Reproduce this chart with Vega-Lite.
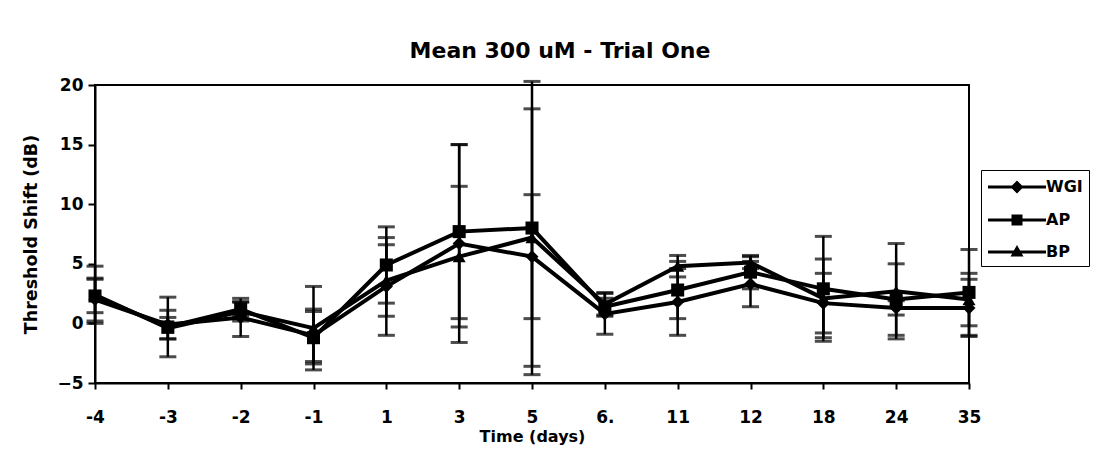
{
  "$schema": "https://vega.github.io/schema/vega-lite/v6.json",
  "autosize": "none",
  "width": 874,
  "height": 298,
  "padding": {"left": 95, "top": 85, "right": 136, "bottom": 84},
  "background": "white",
  "title": {
    "text": "Mean 300 uM - Trial One",
    "font": "DejaVu Sans",
    "fontSize": 22,
    "fontWeight": "bold",
    "color": "black",
    "anchor": "middle",
    "dx": 28,
    "offset": 13
  },
  "config": {
    "view": {"stroke": "black", "strokeWidth": 2},
    "axis": {
      "labelFont": "DejaVu Sans",
      "labelFontWeight": "bold",
      "labelColor": "black",
      "titleFont": "DejaVu Sans",
      "titleFontWeight": "bold",
      "titleColor": "black",
      "domainColor": "black",
      "domainWidth": 2,
      "tickColor": "black",
      "tickWidth": 2,
      "grid": false
    }
  },
  "data": {
    "values": [
      {"day": "-4", "series": "WGI", "value": 2.0, "err": 1.8},
      {"day": "-3", "series": "WGI", "value": -0.1, "err": 1.2},
      {"day": "-2", "series": "WGI", "value": 0.5, "err": 1.6},
      {"day": "-1", "series": "WGI", "value": -1.0, "err": 2.2},
      {"day": "1", "series": "WGI", "value": 3.1, "err": 4.1},
      {"day": "3", "series": "WGI", "value": 6.7, "err": 8.3},
      {"day": "5", "series": "WGI", "value": 5.6, "err": 5.2},
      {"day": "6.", "series": "WGI", "value": 0.8, "err": 1.7},
      {"day": "11", "series": "WGI", "value": 1.8, "err": 2.8},
      {"day": "12", "series": "WGI", "value": 3.3, "err": 1.9},
      {"day": "18", "series": "WGI", "value": 1.7, "err": 2.5},
      {"day": "24", "series": "WGI", "value": 1.3, "err": 0.6},
      {"day": "35", "series": "WGI", "value": 1.3, "err": 2.4},
      {"day": "-4", "series": "AP", "value": 2.3, "err": 1.4},
      {"day": "-3", "series": "AP", "value": -0.3, "err": 2.5},
      {"day": "-2", "series": "AP", "value": 1.2, "err": 0.6},
      {"day": "-1", "series": "AP", "value": -1.2, "err": 2.2},
      {"day": "1", "series": "AP", "value": 4.9, "err": 3.2},
      {"day": "3", "series": "AP", "value": 7.7, "err": 7.3},
      {"day": "5", "series": "AP", "value": 8.0, "err": 12.3},
      {"day": "6.", "series": "AP", "value": 1.4, "err": 0.7},
      {"day": "11", "series": "AP", "value": 2.8, "err": 2.4},
      {"day": "12", "series": "AP", "value": 4.3, "err": 1.4},
      {"day": "18", "series": "AP", "value": 2.9, "err": 4.4},
      {"day": "24", "series": "AP", "value": 2.0, "err": 3.0},
      {"day": "35", "series": "AP", "value": 2.6, "err": 3.6},
      {"day": "-4", "series": "BP", "value": 2.4, "err": 2.4},
      {"day": "-3", "series": "BP", "value": -0.4, "err": 0.9},
      {"day": "-2", "series": "BP", "value": 1.0, "err": 0.8},
      {"day": "-1", "series": "BP", "value": -0.4, "err": 3.5},
      {"day": "1", "series": "BP", "value": 3.6, "err": 3.0},
      {"day": "3", "series": "BP", "value": 5.6, "err": 5.9},
      {"day": "5", "series": "BP", "value": 7.2, "err": 10.8},
      {"day": "6.", "series": "BP", "value": 1.6, "err": 1.0},
      {"day": "11", "series": "BP", "value": 4.8, "err": 0.9},
      {"day": "12", "series": "BP", "value": 5.1, "err": 0.5},
      {"day": "18", "series": "BP", "value": 2.1, "err": 3.3},
      {"day": "24", "series": "BP", "value": 2.7, "err": 4.0},
      {"day": "35", "series": "BP", "value": 2.0, "err": 2.2}
    ]
  },
  "encoding": {
    "x": {
      "field": "day",
      "type": "ordinal",
      "scale": {"type": "point", "padding": 0, "domain": ["-4", "-3", "-2", "-1", "1", "3", "5", "6.", "11", "12", "18", "24", "35"]},
      "axis": {
        "title": "Time (days)",
        "titleFontSize": 16,
        "titlePadding": 3,
        "labelFontSize": 17,
        "labelAngle": 0,
        "labelPadding": 20,
        "tickSize": 6
      }
    },
    "y": {
      "field": "value",
      "type": "quantitative",
      "scale": {"domain": [-5, 20], "nice": false, "zero": false},
      "axis": {
        "title": "Threshold Shift (dB)",
        "titleFontSize": 17.5,
        "titlePadding": 16,
        "labelFontSize": 17,
        "labelPadding": 5,
        "tickSize": 7,
        "values": [-5, 0, 5, 10, 15, 20]
      }
    }
  },
  "layer": [
    {
      "mark": {"type": "errorbar", "color": "black", "ticks": {"size": 17, "thickness": 3, "color": "black"}, "rule": {"strokeWidth": 2.5, "color": "black"}},
      "encoding": {
        "y": {"field": "value", "type": "quantitative"},
        "yError": {"field": "err"},
        "detail": {"field": "series"}
      }
    },
    {
      "mark": {"type": "line", "color": "black", "strokeWidth": 4},
      "encoding": {
        "detail": {"field": "series"}
      }
    },
    {
      "mark": {"type": "point", "filled": true, "color": "black", "opacity": 1, "size": 170},
      "encoding": {
        "shape": {
          "field": "series",
          "type": "nominal",
          "scale": {"domain": ["WGI", "AP", "BP"], "range": ["diamond", "square", "triangle-up"]},
          "legend": null
        }
      }
    },
    {
      "transform": [{"filter": "false"}],
      "mark": {"type": "point", "filled": true, "color": "black", "opacity": 1, "size": 400},
      "encoding": {
        "shape": {
          "field": "series",
          "type": "nominal",
          "scale": {
            "domain": ["WGI", "AP", "BP"],
            "range": [
              "M-1,-0.15H4.8V0.15H-1ZM1.9,-0.65L2.55,0L1.9,0.65L1.25,0Z",
              "M-1,-0.15H4.8V0.15H-1ZM1.35,-0.55H2.45V0.55H1.35Z",
              "M-1,-0.15H4.8V0.15H-1ZM1.9,-0.7L2.55,0.45H1.25Z"
            ]
          },
          "legend": {
            "title": null,
            "orient": "none",
            "legendX": 886,
            "legendY": 85,
            "strokeColor": "black",
            "padding": 6,
            "symbolSize": 400,
            "symbolFillColor": "black",
            "symbolOpacity": 1,
            "rowPadding": 12,
            "labelFont": "DejaVu Sans",
            "labelFontSize": 16,
            "labelFontWeight": "bold",
            "labelColor": "black",
            "labelOffset": 37
          }
        }
      }
    }
  ],
  "resolve": {"scale": {"shape": "independent"}, "legend": {"shape": "independent"}}
}
